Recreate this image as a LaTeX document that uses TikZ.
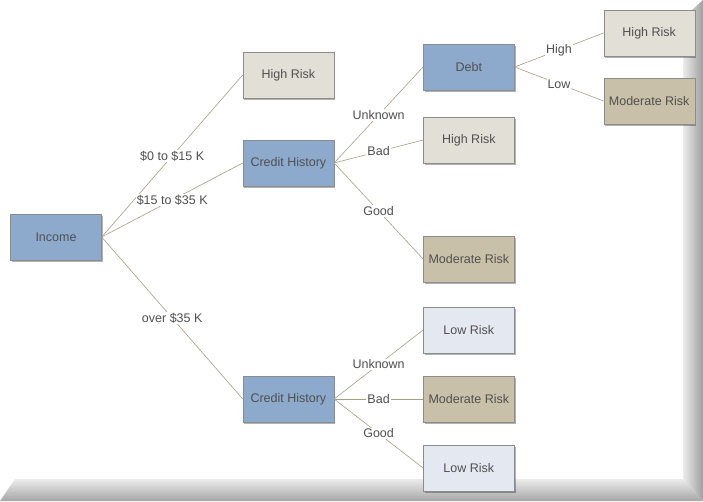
\documentclass[tikz,border=0pt]{standalone}
\usepackage{fontspec}
\setmainfont{Liberation Sans}
\usepackage{xcolor}
\usetikzlibrary{positioning,shadows}
\definecolor{attrblue}{HTML}{8DAACC}
\definecolor{highfill}{HTML}{E2DFD6}
\definecolor{modfill}{HTML}{C8C0A8}
\definecolor{lowfill}{HTML}{E4E8F0}
\definecolor{boxline}{HTML}{8C8C8C}
\definecolor{edgecol}{HTML}{A89F88}
\definecolor{textgrey}{HTML}{505050}
\tikzset{%
box/.style={draw=boxline,rectangle,minimum width=91pt,minimum height=46pt,inner sep=0pt,
  text=textgrey,font=\fontsize{12.5}{14}\selectfont,
  drop shadow={shadow xshift=1.5pt,shadow yshift=-1.5pt,fill=black,opacity=0.3}},
decision/.style={box,fill=attrblue},
highrisk/.style={box,fill=highfill},
modrisk/.style={box,fill=modfill},
lowrisk/.style={box,fill=lowfill},
branch/.style={midway,fill=white,inner sep=1pt,text=textgrey,font=\fontsize{12.5}{14}\selectfont},
every edge/.style={draw=edgecol,line width=0.6pt}
}
\begin{document}
\begin{tikzpicture}[x=1pt,y=1pt]

    \useasboundingbox (0,0) rectangle (703,-501);
    \fill[white] (0,0) rectangle (703,-501);
    % page edge
    \shade[left color=gray!15,right color=gray!75] (683,-18) -- (703,0) -- (703,-501) -- (683,-479) -- cycle;
    \shade[top color=gray!15,bottom color=gray!70] (0,-501) -- (15,-479) -- (683,-479) -- (703,-501) -- cycle;

    \node[decision] (income) at (56,-237) {Income};
    \node[highrisk,right=141pt of income,yshift=162pt] (hr1) {High Risk};
    \node[decision,right=141pt of income,yshift=74pt] (ch1) {Credit History};
    \node[decision,right=141pt of income,yshift=-162pt] (ch2) {Credit History};

    \node[decision,right=89pt of ch1,yshift=96pt] (debt) {Debt};
    \node[highrisk,right=89pt of ch1,yshift=23pt] (hr2) {High Risk};
    \node[modrisk,right=89pt of ch1,yshift=-96pt] (mr1) {Moderate Risk};

    \node[highrisk,right=89pt of debt,yshift=34pt] (hr3) {High Risk};
    \node[modrisk,right=89pt of debt,yshift=-34pt] (mr2) {Moderate Risk};

    \node[lowrisk,right=89pt of ch2,yshift=69pt] (lr1) {Low Risk};
    \node[modrisk,right=89pt of ch2] (mr3) {Moderate Risk};
    \node[lowrisk,right=89pt of ch2,yshift=-69pt] (lr2) {Low Risk};

    \path (income.east) edge node[branch]{\$0 to \$15 K} (hr1.west)
                        edge node[branch]{\$15 to \$35 K} (ch1.west)
                        edge node[branch]{over \$35 K} (ch2.west);

    \path (ch1.east) edge node[branch]{Unknown} (debt.west)
                     edge node[branch]{Bad} (hr2.west)
                     edge node[branch]{Good} (mr1.west);

    \path (debt.east) edge node[branch]{High} (hr3.west)
                      edge node[branch]{Low} (mr2.west);

    \path (ch2.east) edge node[branch]{Unknown} (lr1.west)
                     edge node[branch]{Bad} (mr3.west)
                     edge node[branch]{Good} (lr2.west);

  \end{tikzpicture}
\end{document}
